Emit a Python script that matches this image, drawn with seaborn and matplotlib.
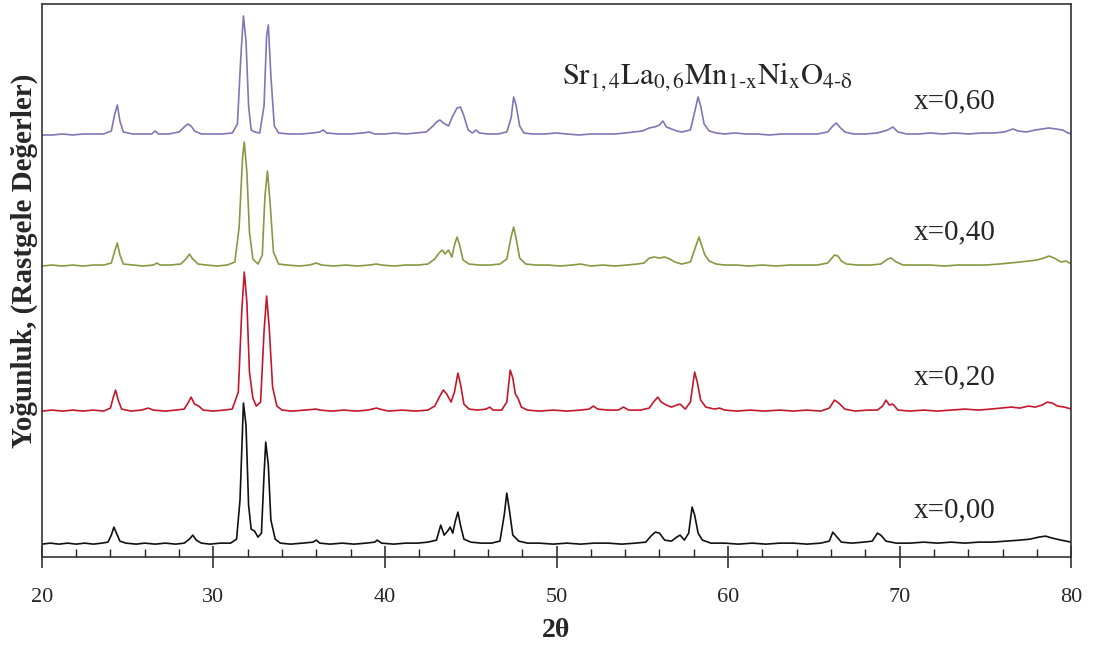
import pandas as pd
import matplotlib.pyplot as plt
import seaborn as sns
from matplotlib.ticker import MultipleLocator

# 2θ / relative intensity readings for each pattern (a.u., baseline = 0)
x000 = [(20.0, 1), (20.5, 2), (21.0, 1), (21.5, 2), (22.0, 1), (22.5, 2), (23.0, 1), (23.5, 2), (23.85, 3),
        (24.05, 10), (24.2, 18), (24.35, 12), (24.55, 4), (24.9, 2), (25.5, 1), (26.0, 2), (26.6, 1), (27.2, 2),
        (27.8, 1), (28.3, 2), (28.6, 6), (28.8, 10), (29.0, 5), (29.3, 2), (29.8, 1), (30.4, 2), (31.0, 2),
        (31.35, 6), (31.55, 45), (31.75, 142), (31.9, 120), (32.05, 40), (32.2, 16), (32.4, 14), (32.6, 8),
        (32.8, 12), (32.95, 70), (33.05, 103), (33.2, 80), (33.35, 25), (33.6, 6), (33.9, 2), (34.5, 1),
        (35.2, 2), (35.8, 3), (36.0, 5), (36.2, 2), (36.8, 1), (37.5, 2), (38.2, 1), (38.9, 2), (39.4, 3),
        (39.55, 5), (39.8, 2), (40.5, 1), (41.2, 2), (41.9, 2), (42.5, 3), (43.0, 5), (43.25, 20), (43.45, 10),
        (43.65, 14), (43.8, 18), (43.95, 12), (44.1, 24), (44.25, 33), (44.4, 20), (44.6, 6), (45.0, 3),
        (45.6, 2), (46.2, 2), (46.7, 4), (46.95, 30), (47.1, 52), (47.25, 35), (47.45, 10), (47.8, 4),
        (48.3, 2), (49.0, 2), (49.8, 1), (50.6, 2), (51.4, 1), (52.2, 2), (53.0, 2), (53.8, 1), (54.6, 2),
        (55.2, 3), (55.5, 9), (55.75, 13), (56.0, 12), (56.3, 5), (56.7, 4), (57.0, 8), (57.2, 10), (57.45, 5),
        (57.7, 12), (57.9, 38), (58.05, 30), (58.25, 12), (58.5, 5), (59.0, 2), (59.8, 2), (60.6, 1), (61.4, 2),
        (62.2, 1), (63.0, 2), (63.8, 2), (64.6, 1), (65.4, 2), (65.9, 4), (66.1, 13), (66.3, 9), (66.6, 3),
        (67.2, 2), (67.9, 3), (68.4, 4), (68.7, 12), (68.9, 10), (69.2, 4), (69.8, 2), (70.6, 2), (71.4, 3),
        (72.2, 2), (73.0, 3), (73.8, 2), (74.6, 3), (75.4, 3), (76.2, 4), (77.0, 5), (77.6, 6), (78.1, 8),
        (78.5, 9), (78.9, 7), (79.4, 5), (80.0, 3)]

x020 = [(20.0, 1), (20.6, 2), (21.2, 1), (21.8, 2), (22.4, 1), (23.0, 2), (23.6, 1), (24.0, 4), (24.15, 14),
        (24.3, 22), (24.45, 12), (24.65, 3), (25.2, 1), (25.8, 2), (26.2, 4), (26.5, 2), (27.2, 1), (27.8, 2),
        (28.3, 3), (28.55, 10), (28.7, 15), (28.9, 8), (29.15, 6), (29.4, 2), (30.0, 1), (30.6, 2), (31.1, 3),
        (31.45, 20), (31.65, 100), (31.8, 140), (31.95, 110), (32.1, 40), (32.3, 14), (32.5, 6), (32.75, 10),
        (32.95, 80), (33.1, 116), (33.25, 85), (33.45, 25), (33.7, 6), (34.0, 2), (34.6, 1), (35.3, 2),
        (36.0, 3), (36.2, 2), (36.9, 1), (37.6, 2), (38.3, 1), (39.0, 2), (39.5, 4), (39.7, 3), (40.2, 1),
        (41.0, 2), (41.8, 1), (42.5, 2), (42.9, 6), (43.2, 16), (43.4, 22), (43.6, 18), (43.85, 10), (44.05, 20),
        (44.25, 39), (44.4, 28), (44.6, 8), (44.9, 3), (45.4, 2), (45.9, 3), (46.1, 5), (46.3, 2), (46.8, 2),
        (47.1, 10), (47.3, 42), (47.45, 34), (47.6, 18), (47.75, 14), (47.95, 5), (48.3, 2), (49.0, 1),
        (49.8, 2), (50.6, 1), (51.4, 2), (51.9, 3), (52.15, 6), (52.4, 3), (53.0, 2), (53.6, 2), (53.9, 5),
        (54.2, 2), (54.9, 2), (55.4, 4), (55.7, 11), (55.9, 15), (56.1, 10), (56.4, 7), (56.7, 5), (57.0, 7),
        (57.2, 8), (57.5, 3), (57.8, 10), (58.05, 40), (58.2, 30), (58.4, 12), (58.7, 5), (59.2, 3), (59.5, 4),
        (59.8, 2), (60.5, 1), (61.3, 2), (62.1, 1), (63.0, 2), (63.8, 1), (64.6, 2), (65.4, 1), (65.9, 4),
        (66.2, 12), (66.45, 9), (66.8, 3), (67.4, 1), (68.1, 2), (68.7, 2), (69.0, 6), (69.2, 12), (69.4, 7),
        (69.6, 8), (69.9, 2), (70.6, 1), (71.4, 2), (72.2, 1), (73.0, 2), (73.8, 3), (74.6, 2), (75.3, 3),
        (75.9, 4), (76.5, 5), (77.0, 4), (77.5, 6), (77.9, 5), (78.3, 7), (78.6, 10), (78.9, 9), (79.2, 6),
        (79.6, 5), (80.0, 3)]

x040 = [(20.0, 1), (20.6, 2), (21.2, 1), (21.8, 2), (22.4, 1), (23.0, 2), (23.6, 2), (24.05, 4), (24.25, 16),
        (24.4, 24), (24.55, 12), (24.75, 3), (25.3, 2), (25.9, 1), (26.5, 2), (26.7, 4), (26.9, 2), (27.5, 2),
        (28.1, 3), (28.45, 9), (28.6, 13), (28.8, 8), (29.1, 3), (29.6, 2), (30.2, 1), (30.8, 2), (31.25, 5),
        (31.5, 40), (31.7, 110), (31.8, 125), (31.95, 95), (32.1, 35), (32.3, 8), (32.6, 3), (32.85, 12),
        (33.0, 70), (33.15, 96), (33.3, 65), (33.5, 15), (33.8, 3), (34.3, 2), (35.0, 1), (35.6, 2), (36.0, 4),
        (36.3, 2), (37.0, 1), (37.7, 2), (38.4, 1), (39.1, 2), (39.5, 3), (39.8, 2), (40.5, 1), (41.2, 2),
        (41.9, 2), (42.5, 3), (42.9, 8), (43.15, 14), (43.35, 17), (43.5, 13), (43.7, 17), (43.9, 10),
        (44.05, 22), (44.2, 30), (44.35, 22), (44.55, 7), (44.9, 3), (45.5, 2), (46.1, 2), (46.7, 3), (47.1, 8),
        (47.35, 30), (47.5, 40), (47.65, 28), (47.85, 9), (48.2, 3), (48.8, 2), (49.5, 2), (50.2, 1), (50.9, 2),
        (51.4, 3), (52.0, 1), (52.7, 2), (53.4, 1), (54.1, 2), (54.7, 3), (55.1, 4), (55.4, 9), (55.7, 10),
        (56.0, 9), (56.3, 10), (56.6, 8), (56.9, 5), (57.3, 3), (57.8, 5), (58.1, 20), (58.3, 30), (58.45, 22),
        (58.65, 12), (58.9, 6), (59.3, 3), (59.8, 2), (60.5, 2), (61.2, 1), (62.0, 2), (62.8, 1), (63.6, 2),
        (64.4, 2), (65.2, 2), (65.8, 4), (66.0, 8), (66.2, 12), (66.4, 11), (66.6, 6), (66.9, 3), (67.6, 2),
        (68.3, 2), (68.9, 3), (69.3, 8), (69.5, 9), (69.8, 5), (70.2, 2), (71.0, 2), (71.8, 2), (72.6, 1),
        (73.4, 2), (74.2, 2), (75.0, 2), (75.8, 3), (76.4, 4), (77.0, 5), (77.5, 6), (78.0, 7), (78.4, 9),
        (78.7, 11), (79.0, 9), (79.4, 5), (79.7, 6), (80.0, 3)]

x060 = [(20.0, 1), (20.6, 1), (21.2, 2), (21.8, 1), (22.4, 2), (23.0, 2), (23.6, 2), (24.05, 5), (24.25, 22),
        (24.4, 31), (24.55, 15), (24.75, 4), (25.3, 2), (25.9, 2), (26.4, 2), (26.6, 5), (26.8, 2), (27.4, 2),
        (28.0, 4), (28.3, 9), (28.5, 12), (28.7, 10), (28.9, 5), (29.3, 2), (29.9, 2), (30.5, 2), (31.1, 3),
        (31.4, 12), (31.6, 80), (31.75, 120), (31.9, 95), (32.05, 30), (32.2, 6), (32.4, 4), (32.7, 3),
        (32.95, 30), (33.1, 100), (33.2, 111), (33.35, 60), (33.55, 10), (33.8, 3), (34.4, 2), (35.1, 2),
        (35.8, 3), (36.2, 4), (36.4, 6), (36.6, 3), (37.3, 2), (38.0, 2), (38.7, 3), (39.1, 4), (39.4, 2),
        (40.0, 2), (40.6, 3), (41.2, 2), (41.8, 3), (42.4, 4), (42.8, 10), (43.0, 14), (43.2, 16), (43.4, 13),
        (43.7, 10), (43.95, 20), (44.2, 28), (44.4, 29), (44.6, 20), (44.85, 6), (45.1, 3), (45.3, 6),
        (45.5, 3), (46.0, 2), (46.6, 2), (47.1, 4), (47.35, 18), (47.5, 39), (47.65, 30), (47.85, 10),
        (48.1, 3), (48.6, 2), (49.3, 2), (50.0, 3), (50.6, 2), (51.3, 1), (52.0, 2), (52.7, 2), (53.4, 2),
        (54.0, 3), (54.5, 4), (55.0, 5), (55.4, 8), (55.7, 9), (56.0, 11), (56.2, 15), (56.4, 9), (56.7, 7),
        (57.0, 5), (57.3, 4), (57.8, 6), (58.05, 24), (58.25, 39), (58.4, 30), (58.6, 12), (58.9, 5), (59.3, 3),
        (59.8, 2), (60.4, 3), (61.0, 2), (61.7, 2), (62.4, 1), (63.1, 2), (63.8, 2), (64.5, 2), (65.2, 2),
        (65.8, 4), (66.1, 10), (66.3, 13), (66.5, 9), (66.8, 4), (67.3, 2), (68.0, 2), (68.7, 3), (69.3, 6),
        (69.6, 9), (69.9, 4), (70.4, 2), (71.1, 2), (71.8, 3), (72.5, 2), (73.2, 3), (74.0, 2), (74.8, 3),
        (75.5, 3), (76.1, 4), (76.6, 7), (76.9, 5), (77.4, 4), (77.9, 6), (78.3, 7), (78.7, 8), (79.1, 7),
        (79.5, 6), (79.8, 3), (80.0, 2)]

labels = ["x=0,00", "x=0,20", "x=0,40", "x=0,60"]
offsets = [12, 145, 290, 421]   # vertical stacking of the patterns
colors = ["#111111", "#c2182b", "#849a42", "#8474b4"]

frames = []
for lab, off, pts in zip(labels, offsets, [x000, x020, x040, x060]):
    d = pd.DataFrame(pts, columns=["tt", "I"])
    d["y"] = d["I"] + off
    d["seri"] = lab
    frames.append(d)
df = pd.concat(frames, ignore_index=True)

sns.set_style("white")
plt.rcParams["font.family"] = ["Liberation Serif", "DejaVu Serif"]
plt.rcParams["mathtext.fontset"] = "stix"

fig = plt.figure(figsize=(11.01, 6.57), dpi=100)
ax = fig.add_axes([0.038, 0.152, 0.935, 0.842])

sns.lineplot(data=df, x="tt", y="y", hue="seri", palette=dict(zip(labels, colors)),
             estimator=None, sort=False, linewidth=1.2, legend=False, ax=ax)

ax.set_xlim(20, 80)
ax.set_ylim(0, 553)
ax.xaxis.set_major_locator(MultipleLocator(10))
ax.xaxis.set_minor_locator(MultipleLocator(2))
ax.tick_params(axis="x", which="both", bottom=True)
ax.tick_params(axis="x", which="major", direction="inout", length=16, width=1.1,
               labelsize=16, pad=14, color="#222222")
ax.tick_params(axis="x", which="minor", direction="in", length=6, width=1.0, color="#222222")
ax.set_yticks([])
for s in ax.spines.values():
    s.set_color("#333333")
    s.set_linewidth(1.2)

ax.set_xlabel("2θ", fontsize=20, fontweight="bold", labelpad=8)
ax.set_ylabel("Yoğunluk, (Rastgele Değerler)", fontsize=21, fontweight="bold")
ax.yaxis.set_label_coords(-0.004, 0.535)

for lab, off in zip(labels, offsets):
    ax.text(73.2, off + 22, lab, fontsize=21, ha="center", va="bottom")

ax.text(58.8, 480, r"$\mathrm{Sr_{1,4}La_{0,6}Mn_{1\text{-}x}Ni_{x}O_{4\text{-}\delta}}$",
        fontsize=22, ha="center", va="center")

fig.savefig("out.png", dpi=100)
